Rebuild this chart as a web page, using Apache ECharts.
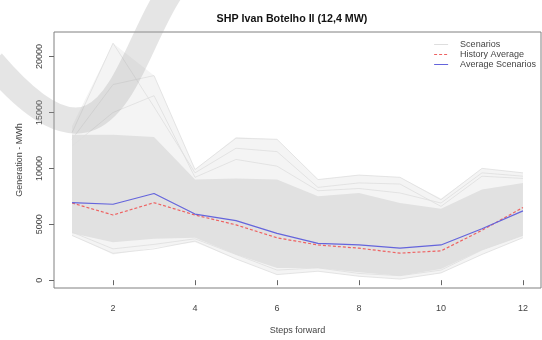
<!DOCTYPE html>
<html>
<head>
<meta charset="utf-8">
<script src="https://cdn.jsdelivr.net/npm/echarts@6/dist/echarts.min.js"></script>
<style>
  html,body{margin:0;padding:0;background:#fff;}
  #chart{width:542px;height:340px;}
</style>
</head>
<body>
<div id="chart"></div>
<script>
var steps = [1,2,3,4,5,6,7,8,9,10,11,12];
var xTicks = [2,4,6,8,10,12];
var yTicks = [0,5000,10000,15000,20000];

// averages
var historyAvg = [6900,5830,6930,5830,4950,3790,3150,2860,2420,2620,4460,6500];
var scenarioAvg = [6930,6790,7750,5915,5330,4190,3290,3150,2860,3150,4600,6200];

// envelope of the scenario cloud (outer = lightest lines, core = dense part)
var outerHigh = [13800,21200,18300,9900,12800,12600,9000,9400,9200,7300,10000,9600];
var coreHigh  = [13000,13000,12800,9000,9100,9000,7500,7800,6900,6400,8100,8700];
var coreLow   = [4200,3400,3700,3800,2300,1100,1100,700,400,1000,2700,4000];
var outerLow  = [4000,2300,2900,3400,1900,500,800,350,100,650,2300,3800];

// a few of the visible extreme scenario lines
var scenA = [13200,21200,15500,9600,11800,11500,8300,8700,8600,6600,9300,9100];
var scenB = [12600,17500,18300,9900,12700,12600,9000,9400,9200,7200,10000,9600];
var scenC = [12000,15000,16500,9200,10800,10200,8000,8200,7800,6900,9600,9300];
var scenD = [4000,2400,2800,3500,1900,500,800,350,100,650,2300,3800];
var scenE = [4300,2800,3200,3700,2300,900,1100,600,400,900,2700,4000];

var pairs = function(vals){
    return steps.map((s,i)=>[s, vals[i]]);
};

var bandShape = function(api, low, high, color){
    var pts = [];
    steps.forEach((s,i)=>{ pts.push(api.coord([s, high[i]])); });
    for(var i = steps.length - 1; i >= 0; i--){
        pts.push(api.coord([steps[i], low[i]]));
    }
    return {type:'polygon', shape:{points:pts}, style:{fill:color}, silent:true};
};

var scenLine = function(vals){
    return {
        name:'Scenarios', type:'line', data:pairs(vals), symbol:'none', silent:true,
        lineStyle:{color:'#dedede', width:0.8}, itemStyle:{color:'#dedede'}, z:3
    };
};

var chart = echarts.init(document.getElementById('chart'), null, {renderer:'canvas'});

var option = {
    animation:false,
    title:{
        text:'SHP Ivan Botelho II (12,4 MW)',
        left:287, top:9, textAlign:'center',
        textStyle:{fontFamily:'Liberation Sans', fontSize:10.7, fontWeight:'bold', color:'#111'}
    },
    legend:{
        orient:'vertical', right:6, top:40, padding:0,
        itemWidth:14, itemHeight:8, itemGap:1,
        itemStyle:{opacity:0},
        lineStyle:{width:1},
        data:['Scenarios','History Average','Average Scenarios'],
        textStyle:{fontFamily:'Liberation Sans', fontSize:9, color:'#444', lineHeight:9, padding:[0,0,0,7]}
    },
    grid:{left:54, right:1, top:32, bottom:46, show:true, borderColor:'#808080', borderWidth:1},
    xAxis:{
        type:'value', min:0.56, max:12.44,
        name:'Steps forward', nameLocation:'middle', nameGap:38,
        nameTextStyle:{fontFamily:'Liberation Sans', fontSize:9, color:'#444'},
        axisLine:{show:false},
        axisTick:{show:true, length:5, customValues:xTicks, lineStyle:{color:'#666'}},
        axisLabel:{customValues:xTicks, margin:16, fontFamily:'Liberation Sans', fontSize:9, color:'#444'},
        splitLine:{show:false}
    },
    yAxis:{
        type:'value', min:-700, max:22200,
        name:'Generation - MWh', nameLocation:'middle', nameGap:30, nameRotate:90,
        nameTextStyle:{fontFamily:'Liberation Sans', fontSize:9, color:'#444'},
        axisLine:{show:false},
        axisTick:{show:true, length:5, customValues:yTicks, lineStyle:{color:'#666'}},
        axisLabel:{customValues:yTicks, rotate:90, margin:10, fontFamily:'Liberation Sans', fontSize:9, color:'#444',
            formatter:function(v){ return String(v); }},
        splitLine:{show:false}
    },
    series:[
        scenLine(scenA),
        {
            name:'band', type:'custom', silent:true, z:1,
            data:[[1, 5000]],
            renderItem:function(params, api){
                return {type:'group', children:[
                    bandShape(api, outerLow, outerHigh, '#f4f4f4'),
                    bandShape(api, coreLow, coreHigh, '#e1e1e1')
                ]};
            }
        },
        scenLine(scenB),
        scenLine(scenC),
        scenLine(scenD),
        scenLine(scenE),
        {
            name:'History Average', type:'line', data:pairs(historyAvg), symbol:'none', z:5,
            lineStyle:{color:'#ee6262', width:1.2, type:[3,2]}, itemStyle:{color:'#ee6262'}
        },
        {
            name:'Average Scenarios', type:'line', data:pairs(scenarioAvg), symbol:'none', z:6,
            lineStyle:{color:'#6464dc', width:1.2}, itemStyle:{color:'#6464dc'}
        }
    ],
    graphic:[
        {
            // watermark swoosh over the top-left corner
            type:'bezierCurve', z:100, silent:true,
            shape:{x1:-8, y1:62, cpx1:110, cpy1:200, cpx2:125, cpy2:60, x2:170, y2:-8},
            style:{fill:null, stroke:'rgba(160,160,160,0.28)', lineWidth:26}
        }
    ]
};

chart.setOption(option);
</script>
</body>
</html>
